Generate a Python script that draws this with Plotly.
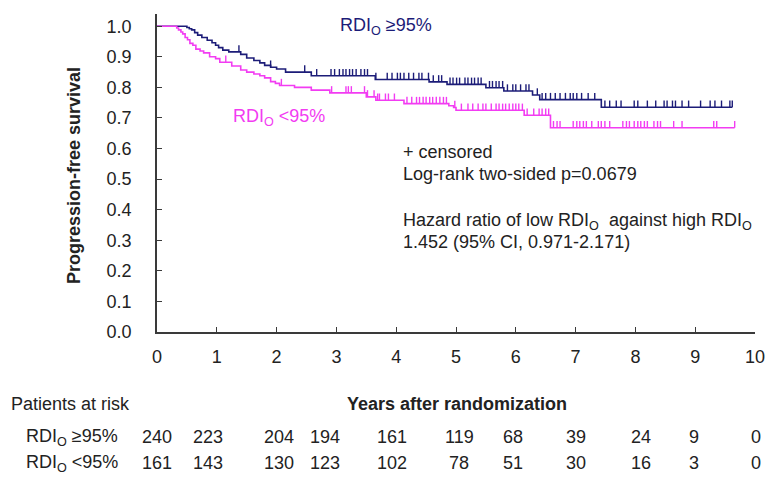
import numpy as np
import plotly.graph_objects as go

# ---------------- data ----------------
years = [0, 1, 2, 3, 4, 5, 6, 7, 8, 9, 10]

# RDI_O >= 95% : event times (years) and survival after each step
hi_event_t = [0.50, 0.54, 0.58, 0.63, 0.68, 0.75, 0.84, 0.92, 0.98, 1.03, 1.10, 1.20,
              1.40, 1.50, 1.62, 1.72, 1.80, 1.90, 2.00, 2.15, 2.58, 3.65, 4.55, 4.85,
              5.50, 5.80, 6.28, 6.40, 7.43]
hi_surv = [0.996, 0.992, 0.988, 0.979, 0.971, 0.963, 0.954, 0.946, 0.938, 0.930, 0.922,
           0.916, 0.908, 0.896, 0.888, 0.880, 0.872, 0.866, 0.860, 0.850, 0.838, 0.826,
           0.818, 0.810, 0.799, 0.788, 0.775, 0.760, 0.735]
hi_end = 9.62
hi_censor = [1.37, 1.90, 2.47, 2.67, 2.91, 2.97, 3.05, 3.11, 3.16, 3.22, 3.27, 3.33, 3.41,
             3.47, 3.52, 3.66, 3.85, 3.93, 4.02, 4.07, 4.13, 4.21, 4.29, 4.38, 4.43, 4.54,
             4.62, 4.71, 4.76, 4.90, 4.95, 5.01, 5.06, 5.15, 5.20, 5.26, 5.31, 5.37, 5.42,
             5.56, 5.61, 5.67, 5.72, 5.78, 5.86, 5.95, 6.00, 6.08, 6.17, 6.22, 6.36, 6.44,
             6.50, 6.58, 6.66, 6.74, 6.83, 6.91, 6.96, 7.02, 7.10, 7.21, 7.32, 7.49, 7.57,
             7.68, 7.76, 7.98, 8.04, 8.20, 8.34, 8.48, 8.53, 8.62, 8.67, 8.78, 8.89, 9.09,
             9.25, 9.33, 9.44, 9.58, 9.62]

# RDI_O < 95%
lo_event_t = [0.33, 0.36, 0.40, 0.43, 0.47, 0.51, 0.55, 0.60, 0.65, 0.72, 0.78, 0.88,
              0.98, 1.05, 1.25, 1.40, 1.50, 1.62, 1.72, 1.80, 1.90, 1.98, 2.05, 2.30,
              2.58, 2.89, 3.50, 3.66, 4.13, 4.88, 4.96, 5.00, 6.14, 6.58]
lo_surv = [0.994, 0.988, 0.981, 0.975, 0.963, 0.956, 0.944, 0.938, 0.925, 0.919, 0.913,
           0.900, 0.894, 0.882, 0.870, 0.857, 0.850, 0.844, 0.838, 0.831, 0.819, 0.813,
           0.806, 0.800, 0.791, 0.782, 0.769, 0.758, 0.747, 0.740, 0.734, 0.725, 0.709,
           0.668]
lo_end = 9.66
lo_censor = [1.15, 2.08, 2.92, 3.16, 3.20, 3.25, 3.47, 3.52, 3.63, 3.69, 3.72, 3.82, 3.87,
             3.97, 4.18, 4.26, 4.34, 4.39, 4.45, 4.50, 4.56, 4.61, 4.67, 4.73, 4.79, 4.84,
             4.98, 5.09, 5.20, 5.28, 5.37, 5.45, 5.50, 5.59, 5.67, 5.72, 5.78, 5.83, 5.89,
             5.95, 6.00, 6.05, 6.11, 6.19, 6.30, 6.39, 6.44, 6.50, 6.55, 6.63, 6.69, 6.74,
             6.96, 7.02, 7.07, 7.13, 7.18, 7.27, 7.38, 7.43, 7.49, 7.57, 7.79, 7.85, 7.90,
             7.98, 8.04, 8.09, 8.15, 8.20, 8.31, 8.37, 8.42, 8.64, 8.78, 9.31, 9.36, 9.66]

risk_hi = [240, 223, 204, 194, 161, 119, 68, 39, 24, 9, 0]
risk_lo = [161, 143, 130, 123, 102, 78, 51, 30, 16, 3, 0]

# ---------------- styling ----------------
FONT = "Liberation Sans, Arial, sans-serif"
TXT = "#222222"
NAVY = "#1c1c78"
MAG = "#f23cf2"
W, H = 777, 477
L, R, T, B = 157, 15, 14, 145
PW, PH = W - L - R, H - T - B


def pxx(x):
    return (x - L) / PW


def pxy(y):
    return (H - B - y) / PH


def curve(t, s, end):
    xs = [0.0] + list(t) + [end]
    ys = [1.0] + list(s) + [s[-1]]
    return xs, ys


def surv_at(t, s, c):
    t = np.asarray(t)
    s = np.asarray([1.0] + list(s))
    idx = np.searchsorted(t, np.asarray(c), side="right")
    return s[idx]


fig = go.Figure()
for et, sv, end, cens, col in [(hi_event_t, hi_surv, hi_end, hi_censor, NAVY),
                               (lo_event_t, lo_surv, lo_end, lo_censor, MAG)]:
    xs, ys = curve(et, sv, end)
    fig.add_trace(go.Scatter(x=xs, y=ys, mode="lines", line=dict(color=col, width=1.6, shape="hv"),
                             showlegend=False, hoverinfo="skip"))
    cy = surv_at(et, sv, cens)
    fig.add_trace(go.Scatter(x=cens, y=cy, mode="markers", marker=dict(size=1, color=col, opacity=0),
                             error_y=dict(type="data", symmetric=False, array=[0.022] * len(cens),
                                          arrayminus=[0] * len(cens), width=0, thickness=1.4, color=col),
                             showlegend=False, hoverinfo="skip"))

ann = []


def add(text, x, y, xanchor="left", color=TXT, size=18, bold=False, xref="paper", yref="paper", **kw):
    if bold:
        text = "<b>" + text + "</b>"
    ann.append(dict(text=text, x=x, y=y, xref=xref, yref=yref, xanchor=xanchor, yanchor="middle",
                    showarrow=False, font=dict(family=FONT, size=size, color=color), **kw))


add("RDI<sub>O</sub> ≥95%", pxx(340), pxy(27), color=NAVY)
add("RDI<sub>O</sub> &lt;95%", pxx(232), pxy(117), color=MAG)
add("+ censored", pxx(404), pxy(152))
add("Log-rank two-sided p=0.0679", pxx(404), pxy(174))
add("Hazard ratio of low RDI<sub>O</sub>  against high RDI<sub>O</sub>", pxx(404), pxy(221))
add("1.452 (95% CI, 0.971-2.171)", pxx(404), pxy(242))
add("Progression-free survival", pxx(73), pxy(175), xanchor="center", bold=True, textangle=-90)
add("Patients at risk", pxx(7), pxy(404))
add("Years after randomization", pxx(461), pxy(404), xanchor="center", bold=True)
add("RDI<sub>O</sub> ≥95%", pxx(22), pxy(437))
add("RDI<sub>O</sub> &lt;95%", pxx(22), pxy(463))
shifts = [0, -9, 2, -11, -4, 3, -3, 0, 6, -1, 1]
for yr, a, b, sh in zip(years, risk_hi, risk_lo, shifts):
    add(str(a), yr, pxy(437), xanchor="center", xref="x", xshift=sh)
    add(str(b), yr, pxy(463), xanchor="center", xref="x", xshift=sh)

axis_common = dict(showline=True, linecolor="#3a3a3a", linewidth=1.5, ticks="inside", ticklen=5,
                   tickcolor="#3a3a3a", tickwidth=1.2, showgrid=False, zeroline=False,
                   tickfont=dict(family=FONT, size=18, color=TXT))
fig.update_xaxes(range=[0, 10], tickvals=years, ticklabelstandoff=8, **axis_common)
fig.update_yaxes(range=[0, 1.04], tickvals=[i / 10 for i in range(11)], tickformat=".1f",
                 ticklabelstandoff=20, **axis_common)
fig.update_layout(width=W, height=H, margin=dict(l=L, r=R, t=T, b=B, pad=0),
                  paper_bgcolor="white", plot_bgcolor="white", annotations=ann,
                  font=dict(family=FONT, color=TXT))
fig.write_html("out.html", config={"displayModeBar": False},
               post_script="document.body.style.margin='0px';")
